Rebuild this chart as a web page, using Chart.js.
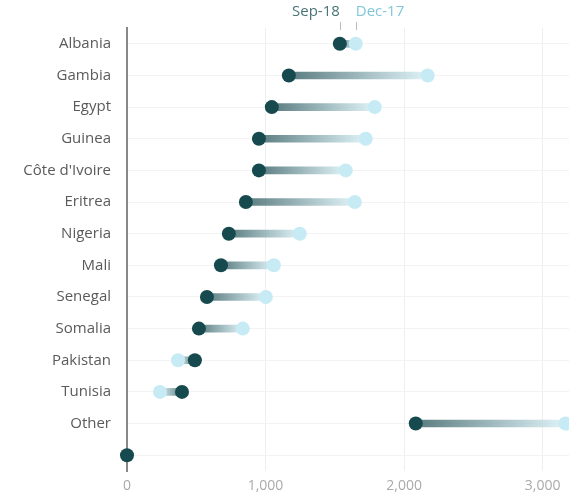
<!DOCTYPE html>
<html>
<head>
<meta charset="utf-8">
<script src="https://cdn.jsdelivr.net/npm/chart.js@4.4.0/dist/chart.umd.min.js"></script>
<style>
  html, body { margin: 0; padding: 0; background: #fff; }
  #wrap { width: 569px; height: 496px; position: relative; }
</style>
</head>
<body>
<div id="wrap"><canvas id="chart"></canvas></div>
<script>
// Countries, top to bottom (last row is an unlabeled baseline dot)
const countries = ['Albania', 'Gambia', 'Egypt', 'Guinea', "Côte d'Ivoire", 'Eritrea', 'Nigeria',
    'Mali', 'Senegal', 'Somalia', 'Pakistan', 'Tunisia', 'Other', ''];
const sep18 = [1536, 1168, 1045, 952, 952, 858, 735, 678, 577, 519, 490, 397, 2084, 0];
const dec17 = [1651, 2170, 1788, 1723, 1579, 1644, 1247, 1060, 1002, 836, 368, 238, 3165, null];
const xTicks = [0, 1000, 2000, 3000];

const darkColor = '#174a4f';
const lightColor = '#c6ebf4';

// bar from Sep-18 to Dec-17 for each row
const ranges = sep18.map((v, i) => dec17[i] == null ? null : [v, dec17[i]]);

// gradient from dark dot to light dot
function barGradient(context) {
    const chart = context.chart;
    const i = context.dataIndex;
    const x = chart.scales.x;
    if (!x || !chart.chartArea || dec17[i] == null) return 'rgba(0,0,0,0)';
    const x0 = x.getPixelForValue(sep18[i]);
    const x1 = x.getPixelForValue(dec17[i]);
    if (Math.abs(x1 - x0) < 1) return lightColor;
    const g = chart.ctx.createLinearGradient(x0, 0, x1, 0);
    g.addColorStop(0, 'rgba(60,100,105,0.85)');
    g.addColorStop(1, 'rgba(215,240,246,0.8)');
    return g;
}

// Sep-18 / Dec-17 labels above the first row
const topLabels = {
    id: 'topLabels',
    afterDraw(chart) {
        const ctx = chart.ctx;
        const x = chart.scales.x;
        const xd = x.getPixelForValue(sep18[0]);
        const xl = x.getPixelForValue(dec17[0]);
        ctx.save();
        ctx.font = '15px "Open Sans"';
        ctx.textBaseline = 'middle';
        ctx.fillStyle = '#4a7478';
        ctx.textAlign = 'right';
        ctx.fillText('Sep-18', xd, 12);
        ctx.fillStyle = '#80c8d8';
        ctx.textAlign = 'left';
        ctx.fillText('Dec-17', xl, 12);
        ctx.strokeStyle = '#bbbbbb';
        ctx.lineWidth = 1;
        ctx.beginPath();
        ctx.moveTo(Math.round(xd) + 0.5, 22);
        ctx.lineTo(Math.round(xd) + 0.5, 30);
        ctx.moveTo(Math.round(xl) + 0.5, 22);
        ctx.lineTo(Math.round(xl) + 0.5, 30);
        ctx.stroke();
        ctx.restore();
    }
};

new Chart(document.getElementById('chart').getContext('2d'), {
    type: 'bar',
    data: {
        labels: countries,
        datasets: [
            {
                label: 'range',
                data: ranges,
                backgroundColor: barGradient,
                barThickness: 7,
                order: 3
            },
            {
                type: 'line',
                label: 'Dec-17',
                data: dec17,
                showLine: false,
                pointRadius: 7,
                pointHoverRadius: 7,
                pointBackgroundColor: lightColor,
                pointBorderWidth: 0,
                order: 2
            },
            {
                type: 'line',
                label: 'Sep-18',
                data: sep18,
                showLine: false,
                pointRadius: 7,
                pointHoverRadius: 7,
                pointBackgroundColor: darkColor,
                pointBorderWidth: 0,
                clip: false,
                order: 1
            }
        ]
    },
    options: {
        indexAxis: 'y',
        responsive: true,
        maintainAspectRatio: false,
        animation: false,
        layout: { autoPadding: false, padding: { top: 28, right: 0, bottom: 0, left: 0 } },
        plugins: {
            legend: { display: false },
            tooltip: { enabled: false }
        },
        scales: {
            x: {
                min: 0,
                max: 3190,
                afterBuildTicks: scale => {
                    scale.ticks = xTicks.map(v => ({ value: v }));
                },
                afterFit: scale => { scale.height = 24; },
                border: { display: false },
                grid: { color: '#efefef', drawTicks: false },
                ticks: {
                    padding: 7,
                    color: '#aaaaaa',
                    font: { family: 'Open Sans', size: 14 },
                    callback: v => v.toLocaleString('en-US')
                }
            },
            y: {
                afterFit: scale => { scale.width = 127; },
                border: { display: true, color: '#888888', width: 2 },
                grid: { color: '#f3f3f3', offset: false, drawTicks: false },
                ticks: {
                    padding: 16,
                    color: '#5a5a5a',
                    font: { family: 'Open Sans', size: 15 }
                }
            }
        }
    },
    plugins: [topLabels]
});
</script>
</body>
</html>
